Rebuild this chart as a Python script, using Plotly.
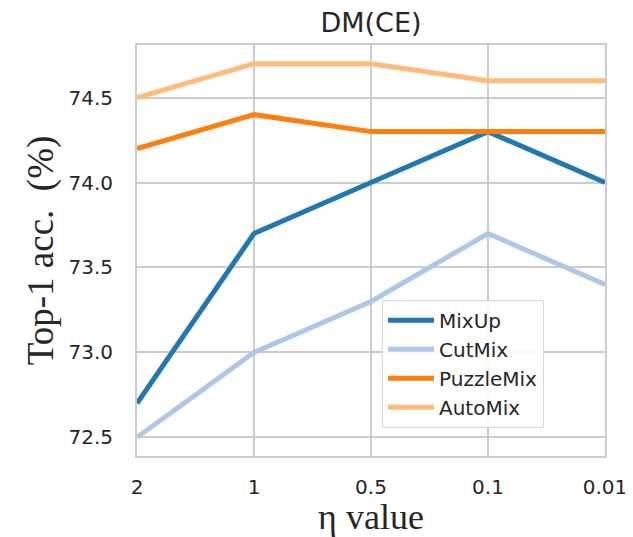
import plotly.graph_objects as go

categories = ["2", "1", "0.5", "0.1", "0.01"]
mixup = [72.7, 73.7, 74.0, 74.3, 74.0]
cutmix = [72.5, 73.0, 73.3, 73.7, 73.4]
puzzlemix = [74.2, 74.4, 74.3, 74.3, 74.3]
automix = [74.5, 74.7, 74.7, 74.6, 74.6]

series = [
    ("MixUp", mixup, "#1f77b4"),
    ("CutMix", cutmix, "#aec7e8"),
    ("PuzzleMix", puzzlemix, "#ff7f0e"),
    ("AutoMix", automix, "#ffbb78"),
]

fig = go.Figure()
for name, vals, color in series:
    fig.add_trace(go.Scatter(x=list(range(len(categories))), y=vals, mode="lines", name=name,
                             line=dict(color=color, width=5)))

grid = "#cccccc"
txt = "#262626"
fig.update_layout(
    width=625, height=529,
    margin=dict(l=129, r=28, t=37, b=81, autoexpand=False),
    plot_bgcolor="white", paper_bgcolor="white",
    title=dict(text="DM(CE)", x=0.5, xanchor="center", xref="paper", y=1, yref="paper",
               yanchor="bottom", pad=dict(b=13),
               font=dict(family="DejaVu Sans", size=27, color=txt)),
    font=dict(family="DejaVu Sans", size=20, color=txt),
    legend=dict(x=0.5235, y=0.38, xanchor="left", yanchor="top",
                bgcolor="rgba(255,255,255,0.9)", bordercolor="#d9d9d9", borderwidth=1,
                font=dict(size=20, family="DejaVu Sans", color=txt),
                itemwidth=46, tracegroupgap=0),
    showlegend=True,
)
fig.update_xaxes(
    range=[0, 4], tickmode="array", tickvals=list(range(len(categories))), ticktext=categories,
    showgrid=True, gridcolor=grid, gridwidth=1.5, zeroline=False,
    showline=True, linecolor=grid, linewidth=2, mirror=True,
    ticks="", ticklabelstandoff=12, automargin=False,
    title=dict(text="η value", font=dict(family="Liberation Serif", size=36, color=txt), standoff=4),
)
fig.update_yaxes(
    range=[72.39, 74.81], tickmode="array", tickvals=[72.5, 73.0, 73.5, 74.0, 74.5],
    ticktext=["72.5", "73.0", "73.5", "74.0", "74.5"],
    showgrid=True, gridcolor=grid, gridwidth=1.5, zeroline=False,
    showline=True, linecolor=grid, linewidth=2, mirror=True,
    ticks="", ticklabelstandoff=18, automargin=False,
    title=dict(text="Top-1 acc.  (%)", font=dict(family="Liberation Serif", size=37, color=txt), standoff=4),
)
fig.write_html("out.html")
